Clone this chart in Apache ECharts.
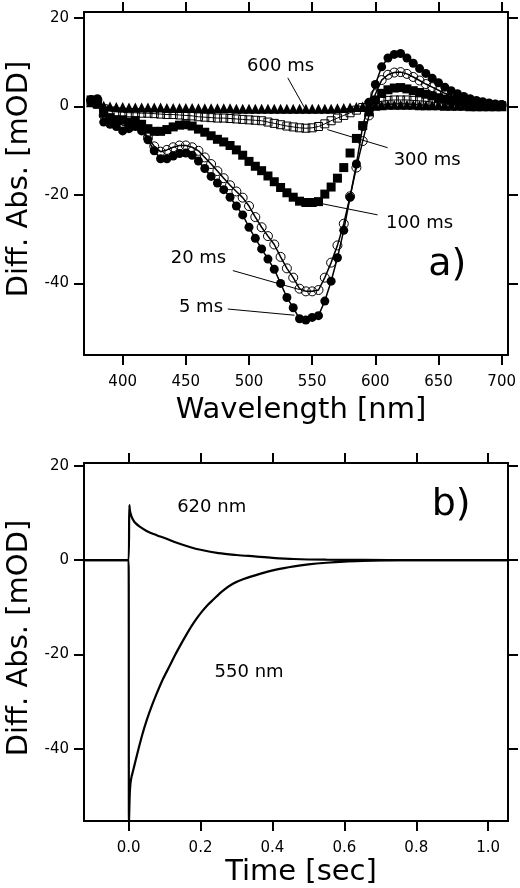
<!DOCTYPE html>
<html><head><meta charset="utf-8">
<script src="https://cdn.jsdelivr.net/npm/echarts@6/dist/echarts.min.js"></script>
<style>html,body{margin:0;padding:0;background:#fff}#c{width:520px;height:888px}</style>
</head><body><div id="c"></div>
<script>
// ---------- Panel a) spectra (wavelength in nm, difference absorbance in mOD) ----------
const wavelengths = [375,380,385,390,395,400,405,410,415,420,
  425,430,435,440,445,450,455,460,465,470,
  475,480,485,490,495,500,505,510,515,520,
  525,530,535,540,545,550,555,560,565,570,
  575,580,585,590,595,600,605,610,615,620,
  625,630,635,640,645,650,655,660,665,670,
  675,680,685,690,695,700];
const spec5ms = [1.5,1.8,-3.5,-4.0,-4.5,-5.5,-5.0,-4.5,-5.5,-7.5,
  -10.0,-11.8,-11.8,-11.2,-10.6,-10.5,-11.0,-12.3,-14.0,-15.8,
  -17.3,-18.8,-20.5,-22.5,-24.5,-27.3,-29.8,-32.2,-34.5,-36.8,
  -40.0,-43.2,-45.5,-48.0,-48.3,-47.7,-47.3,-44.0,-39.5,-34.2,
  -28.0,-20.5,-13.0,-4.5,1.0,5.0,9.0,11.0,11.8,12.0,
  11.0,9.8,8.6,7.5,6.4,5.4,4.4,3.6,2.9,2.3,
  1.8,1.4,1.1,0.8,0.6,0.5];
const spec20ms = [1.5,1.5,-2.0,-3.0,-3.5,-4.2,-4.2,-4.0,-5.0,-7.0,
  -9.0,-10.2,-9.8,-9.2,-8.8,-8.8,-9.2,-10.0,-11.5,-13.0,
  -14.6,-16.2,-17.8,-19.2,-20.6,-22.5,-25.0,-27.3,-29.3,-31.2,
  -34.0,-36.6,-38.7,-41.2,-41.8,-41.8,-41.5,-38.7,-35.3,-31.4,
  -26.5,-20.3,-13.8,-7.8,-2.0,2.8,6.0,7.2,7.7,7.8,
  7.4,6.7,5.9,5.1,4.4,3.7,3.0,2.5,2.0,1.6,
  1.3,1.0,0.8,0.6,0.4,0.3];
const spec100ms = [1.5,1.0,-1.5,-2.5,-3.0,-3.0,-3.5,-3.2,-4.0,-5.0,
  -5.6,-5.6,-5.2,-4.6,-4.2,-4.1,-4.4,-5.1,-5.8,-6.6,
  -7.4,-8.0,-8.8,-9.8,-11.0,-12.4,-13.5,-14.5,-15.7,-17.0,
  -18.3,-19.5,-20.5,-21.4,-21.7,-21.7,-21.5,-19.8,-18.2,-16.2,
  -13.8,-10.5,-7.2,-4.3,-1.2,1.5,3.0,3.8,4.2,4.3,
  4.0,3.6,3.2,2.8,2.4,2.0,1.7,1.4,1.2,1.0,
  0.8,0.6,0.5,0.4,0.3,0.2];
const spec300ms = [1.0,0.5,-0.5,-1.0,-1.2,-1.3,-1.4,-1.4,-1.5,-1.5,
  -1.6,-1.7,-1.8,-1.8,-1.9,-2.0,-2.1,-2.3,-2.4,-2.5,
  -2.6,-2.6,-2.7,-2.8,-2.9,-3.0,-3.1,-3.2,-3.5,-3.8,
  -4.1,-4.4,-4.6,-4.8,-4.9,-4.8,-4.5,-3.9,-3.2,-2.6,
  -2.0,-1.4,-0.8,-0.2,0.4,0.9,1.2,1.4,1.5,1.5,
  1.5,1.4,1.3,1.2,1.0,0.9,0.8,0.7,0.6,0.5,
  0.4,0.4,0.3,0.2,0.2,0.1];
const spec600ms = [1.0,0.8,0.2,0.0,-0.1,-0.1,-0.2,-0.2,-0.2,-0.2,
  -0.2,-0.2,-0.3,-0.3,-0.3,-0.3,-0.3,-0.4,-0.4,-0.4,
  -0.4,-0.4,-0.4,-0.5,-0.5,-0.5,-0.5,-0.5,-0.5,-0.5,
  -0.5,-0.5,-0.5,-0.5,-0.5,-0.5,-0.5,-0.5,-0.5,-0.4,
  -0.3,-0.2,-0.1,0.0,0.1,0.2,0.3,0.4,0.4,0.4,
  0.4,0.4,0.3,0.3,0.3,0.3,0.2,0.2,0.2,0.2,
  0.1,0.1,0.1,0.1,0.1,0.1];

// ---------- Panel b) kinetics (time in s, mOD) ----------
const time620 = [-0.124,-0.1,-0.05,0,0.002,0.004,0.008,0.013,0.02,0.031,0.05,0.078,0.1,0.134,0.17,0.2,0.25,0.3,0.35,0.4,0.46,0.55,0.65,0.8,1.055];
const abs620  = [0,0,0,0,11.7,10.4,9.3,8.5,7.8,7.1,6.2,5.3,4.7,3.7,2.8,2.2,1.5,1.1,0.8,0.5,0.25,0.1,0.05,0,0];
const time550 = [-0.124,-0.1,-0.05,0,0.001,0.003,0.005,0.008,0.013,0.02,0.027,0.038,0.05,0.065,0.078,0.095,0.115,0.13,0.145,0.16,0.175,0.19,0.205,0.22,0.235,0.26,0.29,0.32,0.365,0.41,0.46,0.5,0.55,0.6,0.65,0.7,0.8,1.055];
const abs550  = [0,0,0,0,-56,-50,-47.5,-46,-44.5,-42.3,-40.2,-37,-34,-30.8,-28.3,-25.3,-22.3,-20.0,-17.9,-15.9,-14.0,-12.3,-10.8,-9.5,-8.4,-6.6,-5.0,-4.0,-2.9,-2.0,-1.3,-0.9,-0.55,-0.3,-0.15,-0.05,0,0];

// ---------- tick labels ----------
const wlTicks = [400,450,500,550,600,650,700];
const modTicks = [-40,-20,0,20];
const timeTicks = [0,0.2,0.4,0.6,0.8,1.0];

// ---------- annotation texts ----------
const spectraNames = ['600 ms','300 ms','100 ms','20 ms','5 ms'];
const spectraLabelAt = [[525,9.0],[641,-12.1],[635,-26.3],[460,-34.4],[462,-45.4]];
const leaderFrom = [[530.7,6.5],[609.7,-9.3],[601.8,-24.5],[487.2,-37.1],[483.2,-45.8]];
const leaderTo   = [[544,-0.3],[562,-5.2],[558.3,-22.0],[540,-41.4],[536,-47.2]];
const traceNames = ['620 nm','550 nm'];
const traceLabelAt = [[0.231,11.3],[0.335,-23.8]];

const FONT = '"DejaVu Sans", Verdana, sans-serif';
const chart = echarts.init(document.getElementById('c'), null, {renderer:'canvas'});

function pairs(xs, ys){ return xs.map((x,i)=>[x, ys[i]]); }
const axisLine = {show:true, onZero:false, lineStyle:{color:'#000', width:2}};
function tick(vals){ return {show:true, inside:false, length:10, lineStyle:{color:'#000', width:2}, customValues: vals}; }
const labelBase = {show:true, color:'#000', fontSize:15, fontFamily:FONT};
function xAx(grid, pos, min, max, ticks, showLabel, fmt){
  return {type:'value', gridIndex:grid, position:pos, min:min, max:max,
    axisLine:axisLine, axisTick:tick(ticks), splitLine:{show:false},
    axisLabel: showLabel ? Object.assign({}, labelBase, {customValues:ticks, margin:20, formatter:fmt}) : {show:false}};
}
function yAx(grid, pos, min, max, ticks, showLabel){
  return {type:'value', gridIndex:grid, position:pos, min:min, max:max,
    axisLine:axisLine, axisTick:tick(ticks), splitLine:{show:false},
    axisLabel: showLabel ? Object.assign({}, labelBase, {customValues:ticks, margin:15}) : {show:false}};
}

const option = {
  animation:false,
  backgroundColor:'#fff',
  grid:[
    {left:84, top:12, width:424, height:343, containLabel:false, outerBoundsMode:'none'},
    {left:84, top:463, width:424, height:358, containLabel:false, outerBoundsMode:'none'}
  ],
  xAxis:[
    xAx(0,'bottom',369.4,705,wlTicks,true,v=>String(v)),
    xAx(0,'top',369.4,705,wlTicks,false),
    xAx(1,'bottom',-0.124,1.055,timeTicks,true,v=>v.toFixed(1)),
    xAx(1,'top',-0.124,1.055,timeTicks,false)
  ],
  yAxis:[
    yAx(0,'left',-56.2,21.4,modTicks,true),
    yAx(0,'right',-56.2,21.4,modTicks,false),
    yAx(1,'left',-55.3,20.6,modTicks,true),
    yAx(1,'right',-55.3,20.6,modTicks,false)
  ],
  series:[
    {name:'300 ms', type:'line', xAxisIndex:0, yAxisIndex:0, data:pairs(wavelengths,spec300ms),
      symbol:'rect', symbolSize:8, showAllSymbol:true, lineStyle:{color:'#000', width:1},
      itemStyle:{color:'rgba(255,255,255,0)', borderColor:'#000', borderWidth:1, opacity:1}},
    {name:'600 ms', type:'scatter', xAxisIndex:0, yAxisIndex:0, data:pairs(wavelengths,spec600ms),
      symbol:'triangle', symbolSize:10, itemStyle:{color:'#000', opacity:1}},
    {name:'100 ms', type:'scatter', xAxisIndex:0, yAxisIndex:0, data:pairs(wavelengths,spec100ms),
      symbol:'rect', symbolSize:9, itemStyle:{color:'#000', opacity:1}},
    {name:'20 ms', type:'line', xAxisIndex:0, yAxisIndex:0, data:pairs(wavelengths,spec20ms),
      symbol:'circle', symbolSize:9, showAllSymbol:true, lineStyle:{color:'#000', width:1.5},
      itemStyle:{color:'rgba(255,255,255,0)', borderColor:'#000', borderWidth:1, opacity:1}},
    {name:'5 ms', type:'line', xAxisIndex:0, yAxisIndex:0, data:pairs(wavelengths,spec5ms),
      symbol:'circle', symbolSize:9, showAllSymbol:true, lineStyle:{color:'#000', width:1.5},
      itemStyle:{color:'#000', borderColor:'#000', borderWidth:0, opacity:1}},
    {name:'620 nm', type:'line', xAxisIndex:2, yAxisIndex:2, data:pairs(time620,abs620),
      showSymbol:false, smooth:0.3, lineStyle:{color:'#000', width:2.2}},
    {name:'550 nm', type:'line', xAxisIndex:2, yAxisIndex:2, data:pairs(time550,abs550),
      showSymbol:false, smooth:0.3, lineStyle:{color:'#000', width:2.2}}
  ]
};
chart.setOption(option);

const g = [];
function txt(x, y, text, size, rot){
  g.push({type:'text', x:x, y:y, rotation:rot||0, z:100,
    style:{text:text, font:size+'px '+FONT, fill:'#000', textAlign:'center', textVerticalAlign:'middle', align:'center', verticalAlign:'middle'}});
}
// axis titles
txt(19.5, 179, 'Diff. Abs. [mOD]', 29, Math.PI/2);
txt(19.5, 638, 'Diff. Abs. [mOD]', 29, Math.PI/2);
txt(301, 410, 'Wavelength [nm]', 29);
txt(301, 872, 'Time [sec]', 29);
// panel a annotations
spectraNames.forEach((n,i)=>{
  const p = chart.convertToPixel({gridIndex:0}, spectraLabelAt[i]);
  txt(p[0], p[1], n, 18);
  const a = chart.convertToPixel({gridIndex:0}, leaderFrom[i]);
  const b = chart.convertToPixel({gridIndex:0}, leaderTo[i]);
  g.push({type:'line', z:100, shape:{x1:a[0], y1:a[1], x2:b[0], y2:b[1]}, style:{stroke:'#000', lineWidth:1}});
});
const pa = chart.convertToPixel({gridIndex:0}, [657, -35.9]);
txt(pa[0], pa[1], 'a)', 38);
// panel b annotations
traceNames.forEach((n,i)=>{
  const p = chart.convertToPixel({gridIndex:1}, traceLabelAt[i]);
  txt(p[0], p[1], n, 18);
});
const pb = chart.convertToPixel({gridIndex:1}, [0.897, 11.7]);
txt(pb[0], pb[1], 'b)', 38);
chart.setOption({graphic: g});
</script>
</body></html>
